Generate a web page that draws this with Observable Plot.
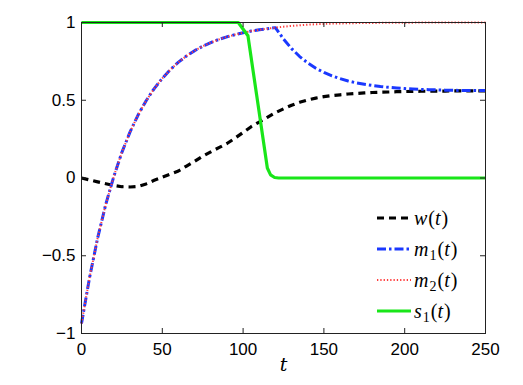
<!DOCTYPE html>
<html><head><meta charset="utf-8">
<script src="https://cdn.jsdelivr.net/npm/d3@7"></script>
<script src="https://cdn.jsdelivr.net/npm/@observablehq/plot@0.6"></script>
<style>
body{margin:0;background:#fff;}
#chart{position:relative;width:523px;height:385px;overflow:hidden;}
#chart svg.lg{position:absolute;left:0;top:0;}
.lg text{font-family:"Liberation Serif", serif;}
</style></head><body><div id="chart"></div>
<script>
// time grid (shared by w, m1, m2)
const t  = [0,5,10,15,20,25,30,35,40,45,50,55,60,65,70,75,80,85,90,95,100,105,110,115,120,125,130,135,140,145,150,155,160,165,170,175,180,185,190,195,200,205,210,215,220,225,230,235,240,245,250];
const w  = [0,-0.012,-0.025,-0.037,-0.048,-0.056,-0.058,-0.054,-0.038,-0.015,0.005,0.025,0.045,0.077,0.107,0.14,0.168,0.195,0.222,0.256,0.293,0.33,0.36,0.39,0.42,0.445,0.468,0.487,0.502,0.514,0.523,0.53,0.535,0.54,0.544,0.547,0.55,0.552,0.553,0.555,0.556,0.557,0.558,0.558,0.559,0.559,0.56,0.56,0.56,0.56,0.56];
const m1 = [-0.936,-0.64,-0.385,-0.17,0.01,0.165,0.295,0.405,0.497,0.575,0.641,0.697,0.745,0.785,0.819,0.847,0.871,0.891,0.908,0.922,0.934,0.945,0.953,0.96,0.967,0.894,0.832,0.781,0.74,0.706,0.679,0.657,0.639,0.624,0.612,0.603,0.595,0.588,0.583,0.579,0.575,0.572,0.57,0.568,0.567,0.565,0.564,0.563,0.563,0.562,0.562];
const m2 = [-0.936,-0.64,-0.385,-0.17,0.01,0.165,0.295,0.405,0.497,0.575,0.641,0.697,0.745,0.785,0.819,0.847,0.871,0.891,0.908,0.922,0.934,0.945,0.953,0.96,0.967,0.973,0.978,0.982,0.986,0.989,0.991,0.993,0.994,0.995,0.996,0.997,0.997,0.998,0.998,0.999,0.999,0.999,1,1,1,1,1,1,1,1,1];
// s1 has its own sample times
const tS = [0,97,103,115,117,119.5,122,250];
const s1 = [1,1,0.915,0.064,0.02,0.003,0,0];

const xTicks = [0,50,100,150,200,250];
const yTicks = [-1,-0.5,0,0.5,1];
const seriesLabels = [["w",null],["m","1"],["m","2"],["s","1"]];
const seriesColors = ["#000000","#1a38ff","#ff3c3c","#19e619"];
const seriesDash   = ["7,5","9,3,2.5,3","1.3,2","none"];
const seriesWidth  = [3.2,3,2,3.2];

const rows = (xs, ys) => xs.map((x,i)=>({t:x, v:ys[i]}));
const fmt = d => (d < 0 ? "\u2212" : "") + Math.abs(d);
const lineOpts = i => ({x:"t", y:"v", stroke:seriesColors[i], strokeWidth:seriesWidth[i], strokeDasharray:seriesDash[i], strokeLinecap:"butt", curve:"linear"});
const FW = 523 - 81 - 38, FH = 385 - 22 - 52, TK = 5;

const plot = Plot.plot({
  width:523, height:385, marginLeft:81, marginRight:38, marginTop:22, marginBottom:52,
  style:{fontFamily:'Liberation Sans, Arial, Helvetica, sans-serif', fontSize:"17px", color:"#000", background:"#fff", overflow:"visible"},
  x:{domain:[0,250]}, y:{domain:[-1,1]},
  marks:[
    Plot.line(rows(t,w), lineOpts(0)),
    Plot.line(rows(t,m1), lineOpts(1)),
    Plot.line(rows(t,m2), lineOpts(2)),
    Plot.line(rows(tS,s1), lineOpts(3)),
    Plot.frame({stroke:"#222", strokeWidth:1}),
    Plot.ruleX(xTicks, {x:d=>d, insetTop:FH-TK, stroke:"#222"}),
    Plot.ruleX(xTicks, {x:d=>d, insetBottom:FH-TK, stroke:"#222"}),
    Plot.ruleY(yTicks, {y:d=>d, insetRight:FW-TK, stroke:"#222"}),
    Plot.ruleY(yTicks, {y:d=>d, insetLeft:FW-TK, stroke:"#222"}),
    Plot.axisX({ticks:xTicks, anchor:"bottom", tickSize:0, tickPadding:9, tickFormat:fmt, label:null}),
    Plot.axisY({ticks:yTicks, anchor:"left", tickSize:0, tickPadding:6, tickFormat:fmt, label:null}),
    Plot.text(["t"], {text:d=>d, frameAnchor:"bottom", dy:37, fontFamily:"DejaVu Serif", fontStyle:"italic", fontSize:19})
  ]
});
const chart = document.getElementById("chart");
chart.appendChild(plot);

// legend (inside the plot area, lower right, no box)
const lg = d3.select(chart).append("svg").attr("class","lg").attr("width",523).attr("height",385);
seriesLabels.forEach(([base, sub], i) => {
  const y = 218 + i*31;
  lg.append("line").attr("x1",377).attr("x2",411).attr("y1",y).attr("y2",y)
    .attr("stroke",seriesColors[i]).attr("stroke-width",seriesWidth[i])
    .attr("stroke-dasharray",seriesDash[i]);
  const tx = lg.append("text").attr("x",414).attr("y",y).attr("dy","0.33em")
    .attr("font-size",20).attr("fill","#000");
  tx.append("tspan").attr("font-style","italic").text(base);
  if (sub) {
    tx.append("tspan").attr("font-size",14).attr("dy",4).attr("dx",1).text(sub);
    tx.append("tspan").attr("dy",-4).attr("dx",1).text("(");
  } else {
    tx.append("tspan").attr("dx",1).text("(");
  }
  tx.append("tspan").attr("font-style","italic").text("t");
  tx.append("tspan").attr("dx",1).text(")");
});
</script></body></html>
